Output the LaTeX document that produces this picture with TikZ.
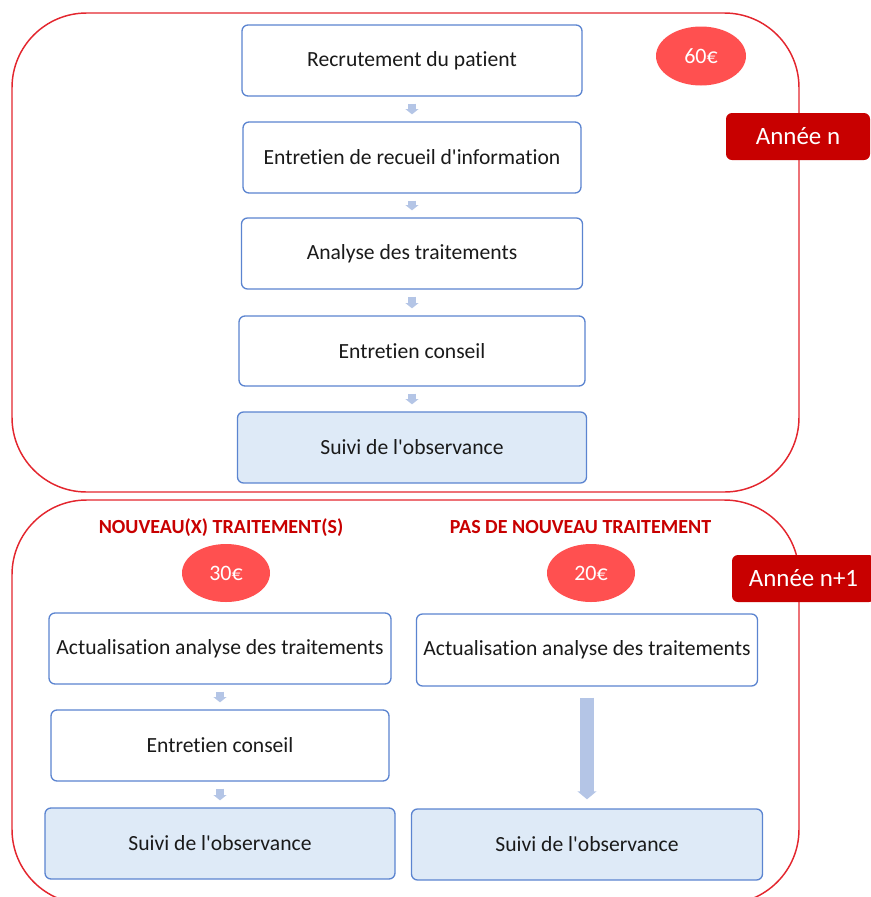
\documentclass[tikz,border=0pt]{standalone}
\usepackage{fontspec}
\setmainfont{Carlito}
\newfontfamily\calibri{Carlito}[Ligatures=NoCommon]
\usetikzlibrary{arrows.meta,shapes.geometric}

\definecolor{zone}{HTML}{E3262E}
\definecolor{boxline}{HTML}{5B84D0}
\definecolor{suivifill}{HTML}{DEEAF7}
\definecolor{textgray}{HTML}{1A1A1A}
\definecolor{prixred}{HTML}{FF5050}
\definecolor{anneered}{HTML}{C80000}
\definecolor{flecheblue}{HTML}{B4C5E6}

\begin{document}
\begin{tikzpicture}[x=0.75pt,y=-0.75pt,
    box/.style={draw=boxline,line width=1pt,rounded corners=4.5pt,fill=white,
      minimum height=53.25pt,inner sep=0pt,text=textgray,
      font=\calibri\fontsize{16.2}{19}\selectfont},
    suivi/.style={box,fill=suivifill},
    prix/.style={ellipse,fill=prixred,text=white,inner sep=0pt,
      minimum width=66pt,minimum height=43.5pt,
      font=\calibri\fontsize{16.5}{19}\selectfont},
    annee/.style={fill=anneered,text=white,rounded corners=4.5pt,inner sep=0pt,
      minimum height=35.25pt,font=\calibri\fontsize{18.7}{22}\selectfont},
    titre/.style={text=anneered,inner sep=0pt,
      font=\calibri\bfseries\fontsize{15}{17}\selectfont},
    zonebox/.style={draw=zone,line width=1.1pt,rounded corners=56pt},
    petite/.style={draw=flecheblue,line width=5.5pt,
      -{Triangle[width=9.75pt,length=4pt]},shorten <=5.25pt,shorten >=5.25pt},
    longue/.style={draw=flecheblue,line width=10pt,
      -{Triangle[width=14pt,length=6pt]},shorten <=8.25pt,shorten >=6.75pt}]

  \useasboundingbox (0,0) rectangle (871,897);
  \clip (0,0) rectangle (871,897);

  % the two years
  \draw[zonebox] (12,13) rectangle (799,492);
  \draw[zonebox] (12,500) rectangle (799,904);

  % year n
  \node[box,minimum width=255pt]   (recrutement) at (412,60.5)  {Recrutement du patient};
  \node[box,minimum width=253.5pt] (recueil)     at (412,157.5) {Entretien de recueil d'information};
  \node[box,minimum width=255.75pt] (analyse)    at (412,253.5) {Analyse des traitements};
  \node[box,minimum width=259.5pt,minimum height=52.5pt] (conseil) at (412,351) {Entretien conseil};
  \node[suivi,minimum width=261.75pt] (suivi)    at (412,447.5) {Suivi de l'observance};

  \node[prix,minimum width=67.5pt,minimum height=44.25pt] (p60) at (701,56) {60€};
  \node[annee,minimum width=108pt] (anneeN) at (798,136.5) {Année n};

  \draw[petite] (recrutement) -- (recueil);
  \draw[petite] (recueil) -- (analyse);
  \draw[petite] (analyse) -- (conseil);
  \draw[petite] (conseil) -- (suivi);

  % year n+1
  \node[titre] (nouveaux) at (221,528)   {NOUVEAU(X) TRAITEMENT(S)};
  \node[titre] (aucun)    at (580.5,527) {PAS DE NOUVEAU TRAITEMENT};
  \node[prix] (p30) at (226,573) {30€};
  \node[prix] (p20) at (591,573) {20€};
  \node[annee,minimum width=107.25pt] (anneeN1) at (803.5,578.5) {Année n+1};

  \node[box,minimum width=256.5pt]  (actuA)   at (220,648.5) {Actualisation analyse des traitements};
  \node[box,minimum width=253.5pt]  (conseilA) at (220,745.5) {Entretien conseil};
  \node[suivi,minimum width=262.5pt] (suiviA) at (220,843.5) {Suivi de l'observance};

  \node[box,minimum width=255.75pt,minimum height=54pt] (actuB) at (587,650) {Actualisation analyse des traitements};
  \node[suivi,minimum width=263.25pt] (suiviB) at (587,844.5) {Suivi de l'observance};

  \draw[petite] (actuA) -- (conseilA);
  \draw[petite] (conseilA) -- (suiviA);
  \draw[longue] (actuB) -- (suiviB);

\end{tikzpicture}
\end{document}
